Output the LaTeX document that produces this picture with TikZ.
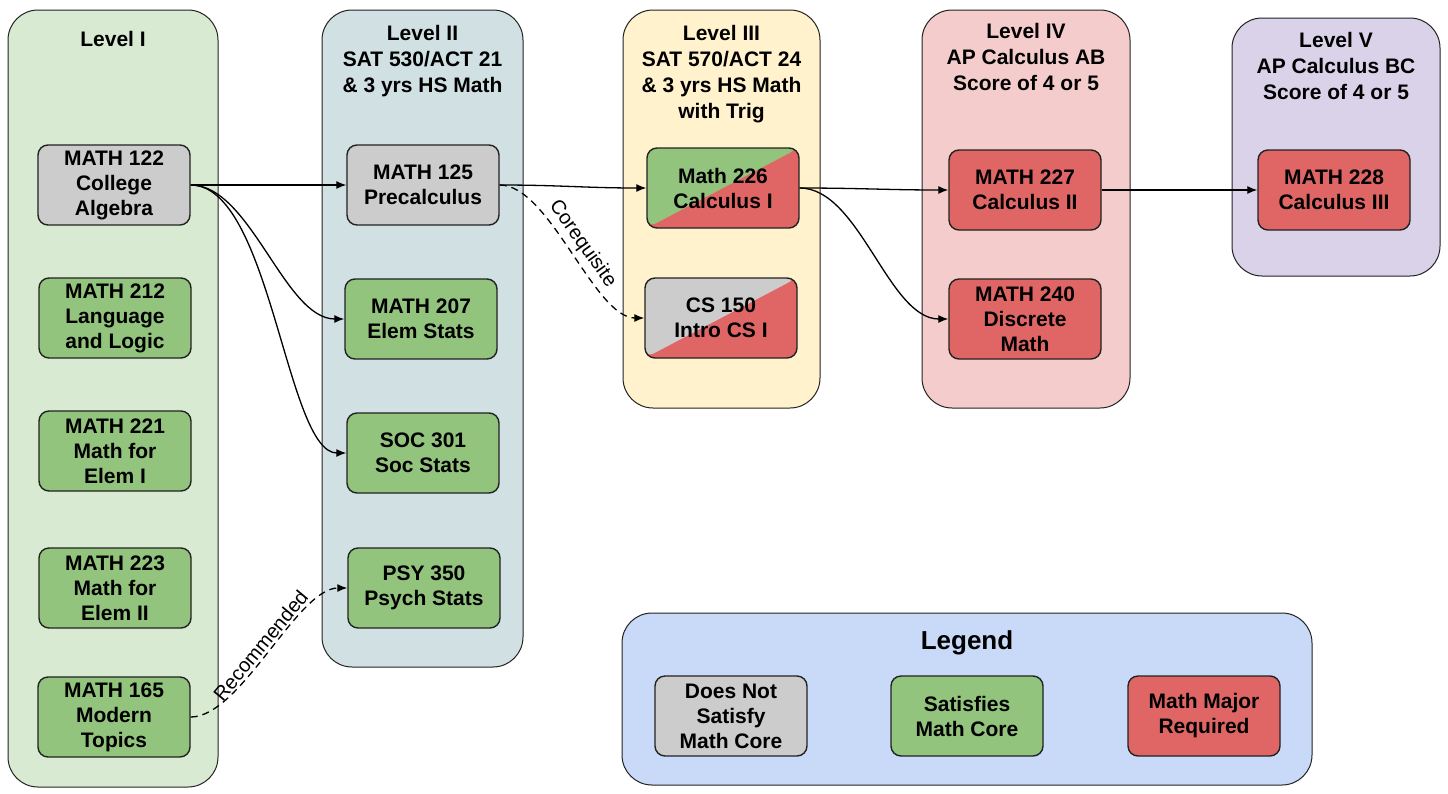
\documentclass[tikz,border=0pt]{standalone}
\usepackage{fontspec}
\setmainfont{Liberation Sans}
\usetikzlibrary{arrows.meta}
\definecolor{bgI}{HTML}{D9EAD3}
\definecolor{bgII}{HTML}{D0E0E3}
\definecolor{bgIII}{HTML}{FFF2CC}
\definecolor{bgIV}{HTML}{F4CCCC}
\definecolor{bgV}{HTML}{D9D2E9}
\definecolor{bgL}{HTML}{C9DAF8}
\definecolor{cgray}{HTML}{CCCCCC}
\definecolor{cgreen}{HTML}{93C47D}
\definecolor{cred}{HTML}{E06666}
\definecolor{edge}{HTML}{222222}
\newcommand{\cfont}{\fontsize{21}{25}\selectfont\bfseries}
\newcommand{\hfont}{\fontsize{21}{26}\selectfont\bfseries}
\newcommand{\lfont}{\fontsize{20}{24}\selectfont}
\tikzset{
  level/.style={draw=edge, line width=1pt, rounded corners=30pt, inner sep=0pt},
  hdr/.style={anchor=north, align=center, font=\hfont, inner sep=0pt},
  course/.style={draw=edge, line width=1.4pt, rounded corners=10pt, minimum width=152pt, minimum height=80pt, align=center, font=\cfont, inner sep=2pt},
  cgr/.style={course, fill=cgray},
  cgn/.style={course, fill=cgreen},
  crd/.style={course, fill=cred},
  split/.style 2 args={course, path picture={
      \fill[#2] (path picture bounding box.south west) rectangle (path picture bounding box.north east);
      \fill[#1] (path picture bounding box.south west) -- (path picture bounding box.north west) -- (path picture bounding box.north east) -- cycle;}},
  arr/.style={draw=black, line width=1.3pt, -{Latex[length=10pt,width=8pt]}},
  darr/.style={arr, dash pattern=on 7pt off 5pt},
  lbl/.style={sloped, font=\lfont, inner sep=3pt}
}
\begin{document}
\begin{tikzpicture}[x=1pt,y=-1pt]
\useasboundingbox (0,0) rectangle (1448,793);
% level containers
\node[level, fill=bgI, minimum width=210pt, minimum height=777pt] (LI) at (113,398.5) {};
\node[level, fill=bgII, minimum width=201pt, minimum height=657pt] (LII) at (422.5,338.5) {};
\node[level, fill=bgIII, minimum width=197pt, minimum height=398pt] (LIII) at (721.5,209) {};
\node[level, fill=bgIV, minimum width=208pt, minimum height=398pt] (LIV) at (1026,209) {};
\node[level, fill=bgV, minimum width=208pt, minimum height=258pt] (LV) at (1336,147) {};
\node[level, fill=bgL, minimum width=690pt, minimum height=172pt] (LG) at (967,699) {};
% headers
\node[hdr] (hI) at (113,31) {Level I};
\node[hdr] (hII) at (422.5,25) {Level II\\SAT 530/ACT 21\\\& 3 yrs HS Math};
\node[hdr] (hIII) at (721.5,25) {Level III\\SAT 570/ACT 24\\\& 3 yrs HS Math\\with Trig};
\node[hdr] (hIV) at (1026,23) {Level IV\\AP Calculus AB\\Score of 4 or 5};
\node[hdr] (hV) at (1336,32) {Level V\\AP Calculus BC\\Score of 4 or 5};
\node[hdr, font=\fontsize{26}{30}\selectfont\bfseries] (hL) at (967,630) {Legend};
% courses
\node[cgr] (m122) at (114,185) {MATH 122\\College\\Algebra};
\node[cgn] (m212) at (115,318) {MATH 212\\Language\\and Logic};
\node[cgn] (m221) at (115,451) {MATH 221\\Math for\\Elem I};
\node[cgn] (m223) at (115,588) {MATH 223\\Math for\\Elem II};
\node[cgn] (m165) at (114,717) {MATH 165\\Modern\\Topics};
\node[cgr] (m125) at (423,185) {MATH 125\\Precalculus};
\node[cgn] (m207) at (421,319) {MATH 207\\Elem Stats};
\node[cgn] (s301) at (423,453) {SOC 301\\Soc Stats};
\node[cgn] (p350) at (424,588) {PSY 350\\Psych Stats};
\node[split={cgreen}{cred}] (m226) at (723,188) {Math 226\\Calculus I};
\node[split={cgray}{cred}] (cs150) at (721,318) {CS 150\\Intro CS I};
\node[crd] (m227) at (1025,190) {MATH 227\\Calculus II};
\node[crd] (m240) at (1025,319) {MATH 240\\Discrete\\Math};
\node[crd] (m228) at (1334,190) {MATH 228\\Calculus III};
% legend items
\node[cgr] (lg1) at (731,716) {Does Not\\Satisfy\\Math Core};
\node[cgn] (lg2) at (967,716) {Satisfies\\Math Core};
\node[crd] (lg3) at (1204,716) {Math Major\\Required};
% connectors
\draw[arr] (m122.east) -- (m125.west);
\draw[arr] (m122.east) .. controls +(60,0) and +(-60,0) .. (m207.west);
\draw[arr] (m122.east) .. controls +(80,0) and +(-60,0) .. (s301.west);
\draw[arr] (m125.east) .. controls +(60,0) and +(-60,0) .. (m226.west);
\draw[darr] (m125.east) .. controls +(50,0) and +(-50,0) .. node[lbl, above] {Corequisite} (cs150.west);
\draw[arr] (m226.east) .. controls +(60,0) and +(-60,0) .. (m227.west);
\draw[arr] (m226.east) .. controls +(60,0) and +(-60,0) .. (m240.west);
\draw[arr] (m227.east) -- (m228.west);
\draw[darr] (m165.east) .. controls +(50,0) and +(-50,0) .. node[lbl, above] {Recommended} (p350.west);
\end{tikzpicture}
\end{document}
